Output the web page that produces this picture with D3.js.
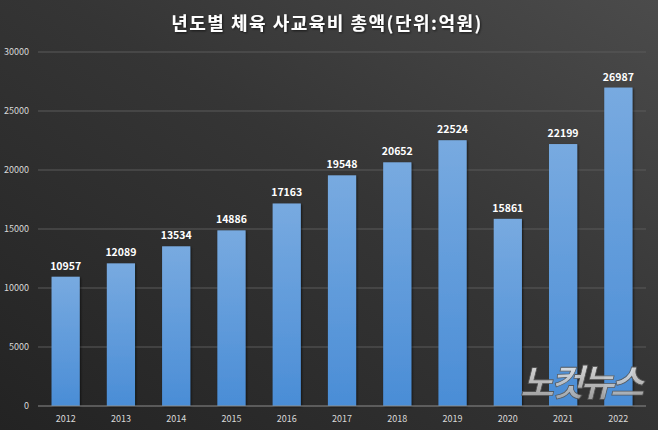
<!DOCTYPE html>
<html>
<head>
<meta charset="utf-8">
<script src="https://cdn.jsdelivr.net/npm/d3@7"></script>
<style>
  body { margin: 0; background: #333; }
  svg { display: block; font-family: "Noto Sans CJK KR", "Noto Sans", sans-serif; }
</style>
</head>
<body>
<svg id="chart" width="658" height="430"></svg>
<script>
// 년도별 체육 사교육비 총액 (단위: 억원)
var years = ["2012", "2013", "2014", "2015", "2016", "2017", "2018", "2019", "2020", "2021", "2022"];
var totals = [10957, 12089, 13534, 14886, 17163, 19548, 20652, 22524, 15861, 22199, 26987];
var yTicks = [0, 5000, 10000, 15000, 20000, 25000, 30000];
var title = "년도별 체육 사교육비 총액(단위:억원)";

var svg = d3.select("#chart"),
    width = +svg.attr("width"),
    height = +svg.attr("height");

var defs = svg.append("defs");

// dark background, lighter towards the upper right
var bg = defs.append("linearGradient").attr("id", "bg")
  .attr("x1", "0").attr("y1", "1").attr("x2", "1").attr("y2", "0");
bg.append("stop").attr("offset", "0").attr("stop-color", "#232323");
bg.append("stop").attr("offset", "0.55").attr("stop-color", "#353535");
bg.append("stop").attr("offset", "1").attr("stop-color", "#4b4b4b");

var barGrad = defs.append("linearGradient").attr("id", "barGrad")
  .attr("x1", "0").attr("y1", "0").attr("x2", "0").attr("y2", "1");
barGrad.append("stop").attr("offset", "0").attr("stop-color", "#78aae0");
barGrad.append("stop").attr("offset", "1").attr("stop-color", "#4a8dd6");

var wmGrad = defs.append("linearGradient").attr("id", "wmGrad")
  .attr("x1", "0").attr("y1", "0").attr("x2", "0").attr("y2", "1");
wmGrad.append("stop").attr("offset", "0").attr("stop-color", "#ffffff");
wmGrad.append("stop").attr("offset", "1").attr("stop-color", "#9a9a9a");

var shadow = defs.append("filter").attr("id", "shadow")
  .attr("x", "-20%").attr("y", "-20%").attr("width", "150%").attr("height", "150%");
shadow.append("feDropShadow").attr("dx", 1).attr("dy", 1).attr("stdDeviation", 1.2)
  .attr("flood-color", "#000").attr("flood-opacity", 0.6);

svg.append("rect").attr("width", width).attr("height", height).attr("fill", "url(#bg)");

var x = d3.scaleBand().domain(years).range([38, 646]).paddingInner(0.49).paddingOuter(0.245);
var y = d3.scaleLinear().domain([0, 30000]).range([406, 52]);

// gridlines
svg.append("g")
  .selectAll("line")
  .data(yTicks.filter(function(d) { return d > 0; }))
  .enter().append("line")
  .attr("x1", 38).attr("x2", 646)
  .attr("y1", function(d) { return y(d); })
  .attr("y2", function(d) { return y(d); })
  .attr("stroke", "#5a5a5a").attr("stroke-width", 1);

// y labels
svg.append("g")
  .selectAll("text")
  .data(yTicks)
  .enter().append("text")
  .attr("x", 29)
  .attr("y", function(d) { return y(d) + 3; })
  .attr("text-anchor", "end")
  .attr("fill", "#d9d9d9")
  .attr("font-size", 9)
  .text(function(d) { return d; });

// bars
svg.append("g")
  .selectAll("rect")
  .data(totals)
  .enter().append("rect")
  .attr("x", function(d, i) { return x(years[i]); })
  .attr("y", function(d) { return y(d); })
  .attr("width", x.bandwidth())
  .attr("height", function(d) { return y(0) - y(d); })
  .attr("fill", "url(#barGrad)")
  .attr("filter", "url(#shadow)");

// baseline
svg.append("line")
  .attr("x1", 38).attr("x2", 646)
  .attr("y1", y(0)).attr("y2", y(0))
  .attr("stroke", "#8c8c8c").attr("stroke-width", 1);

// value labels
svg.append("g")
  .selectAll("text")
  .data(totals)
  .enter().append("text")
  .attr("x", function(d, i) { return x(years[i]) + x.bandwidth() / 2; })
  .attr("y", function(d) { return y(d) - 7; })
  .attr("text-anchor", "middle")
  .attr("fill", "#ffffff")
  .attr("font-size", 10.5)
  .attr("font-weight", "bold")
  .text(function(d) { return d; });

// year labels
svg.append("g")
  .selectAll("text")
  .data(years)
  .enter().append("text")
  .attr("x", function(d) { return x(d) + x.bandwidth() / 2; })
  .attr("y", 422)
  .attr("text-anchor", "middle")
  .attr("fill", "#d9d9d9")
  .attr("font-size", 9)
  .text(function(d) { return d; });

// title
svg.append("text")
  .attr("x", 327).attr("y", 30)
  .attr("text-anchor", "middle")
  .attr("fill", "#ffffff")
  .attr("font-size", 18)
  .attr("font-weight", "bold")
  .attr("letter-spacing", 1.5)
  .attr("filter", "url(#shadow)")
  .text(title);

// watermark
svg.append("text")
  .attr("x", 580).attr("y", 396)
  .attr("text-anchor", "middle")
  .attr("fill", "url(#wmGrad)")
  .attr("stroke", "#555").attr("stroke-width", 0.8)
  .attr("font-size", 37)
  .attr("font-weight", "bold")
  .attr("font-style", "italic")
  .attr("letter-spacing", -4)
  .attr("opacity", 0.9)
  .text("노컷뉴스");
</script>
</body>
</html>
